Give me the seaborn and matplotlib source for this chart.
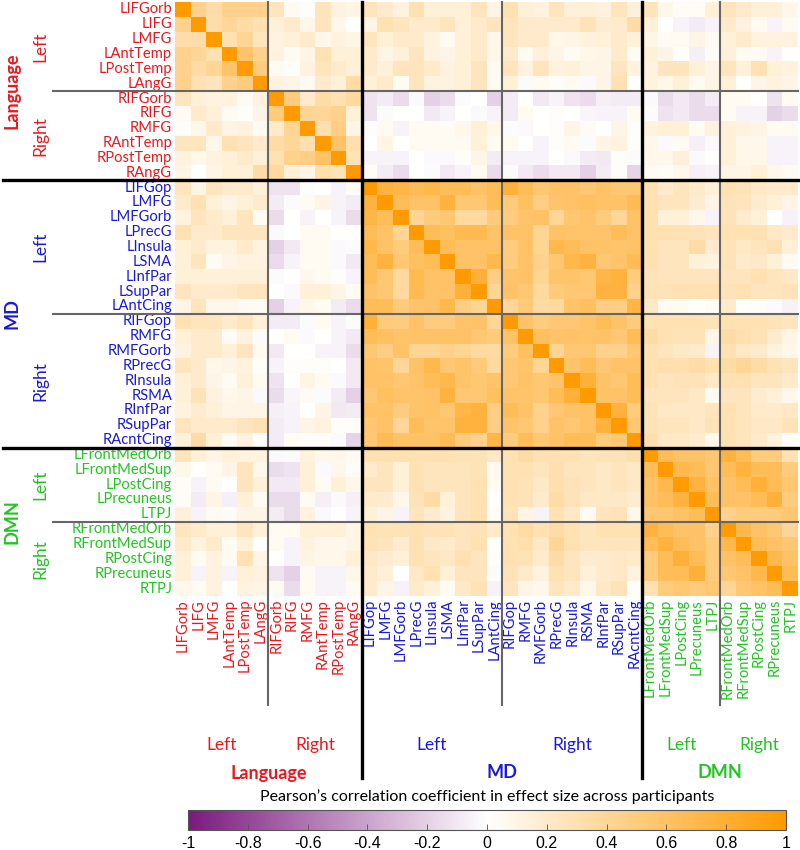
import numpy as np
import pandas as pd
import matplotlib
matplotlib.use("Agg")
import matplotlib.pyplot as plt
import seaborn as sns
from matplotlib import transforms
from matplotlib.colors import LinearSegmentedColormap

# ROI names per network
lang_rois = ["LIFGorb", "LIFG", "LMFG", "LAntTemp", "LPostTemp", "LAngG",
             "RIFGorb", "RIFG", "RMFG", "RAntTemp", "RPostTemp", "RAngG"]
md_rois = ["LIFGop", "LMFG", "LMFGorb", "LPrecG", "LInsula", "LSMA", "LInfPar", "LSupPar", "LAntCing",
           "RIFGop", "RMFG", "RMFGorb", "RPrecG", "RInsula", "RSMA", "RInfPar", "RSupPar", "RAcntCing"]
dmn_rois = ["LFrontMedOrb", "LFrontMedSup", "LPostCing", "LPrecuneus", "LTPJ",
            "RFrontMedOrb", "RFrontMedSup", "RPostCing", "RPrecuneus", "RTPJ"]

networks = ["Language", "MD", "DMN"]
net_colors = ["#E8191E", "#1A1AD8", "#22C422"]
hemi_sizes = [(6, 6), (9, 9), (5, 5)]

# lower triangle of the correlation matrix (x100), row i holds columns 0..i-1
lower_tri = [
    [],
    [45],
    [33, 33],
    [45, 40, 30],
    [45, 35, 42, 58],
    [45, 30, 25, 45, 50],
    [25, 15, 12, 12, 5, 12],
    [5, 20, 15, 5, 2, 10, 50],
    [2, 8, 20, 10, 12, 5, 20, 42],
    [25, 25, 8, 30, 25, 20, 35, 40, 32],
    [12, 8, 12, 15, 20, 15, 30, 45, 48, 60],
    [10, 0, 10, 15, 15, 35, 38, 15, 10, 32, 28],
    # MD
    [25, 10, 25, 20, 20, 15, -12, -12, 2, 0, -5, 3],
    [20, 30, 15, 10, 15, 20, -8, -2, 5, 10, -5, -8, 75],
    [12, 25, 20, 15, 25, 5, -15, 0, -5, 0, -5, -15, 72, 65],
    [30, 20, 20, 25, 25, 25, -3, 0, 5, 5, 0, 0, 65, 60, 42],
    [15, 20, 12, 12, 20, 12, -20, -10, 5, 5, -3, -2, 70, 60, 50, 65],
    [15, 25, 5, 10, 12, 12, -15, -5, 5, 5, -3, -10, 65, 75, 55, 62, 65],
    [15, 15, 15, 15, 15, 15, -2, 0, 8, 5, 2, -5, 65, 55, 38, 68, 60, 60],
    [25, 20, 20, 20, 25, 25, 0, -3, 15, 15, 10, 5, 60, 55, 38, 68, 60, 60, 78],
    [10, 25, 8, 8, 5, 5, -20, -5, 8, 5, -8, -15, 65, 65, 52, 58, 60, 70, 48, 42],
    [30, 25, 25, 20, 25, 15, -8, -8, -2, 5, -5, -2, 78, 52, 50, 60, 50, 50, 58, 60, 40],
    [15, 20, 20, 5, 12, -2, 0, 5, -3, 0, -5, -10, 65, 62, 58, 60, 60, 60, 60, 55, 52, 60],
    [12, 20, 20, 15, 25, 5, -10, 0, 0, -5, -5, -15, 55, 48, 60, 42, 42, 45, 42, 38, 36, 50, 62],
    [25, 20, 8, 10, 12, 2, -5, 2, 2, 2, 0, -10, 60, 58, 40, 60, 70, 55, 58, 52, 38, 55, 58, 42],
    [15, 20, 10, 5, 15, 5, -12, 0, 10, 5, -3, -10, 60, 60, 55, 58, 65, 70, 58, 55, 58, 55, 60, 55, 58],
    [15, 28, 12, 8, 10, -3, -15, -4, 4, -2, -8, -20, 55, 62, 58, 58, 60, 75, 55, 55, 62, 58, 58, 55, 65, 78],
    [12, 18, 15, 10, 10, 10, -7, -5, 0, 10, -10, -8, 60, 60, 50, 58, 60, 55, 72, 75, 48, 65, 60, 45, 55, 60, 60],
    [25, 20, 20, 20, 25, 30, -8, -5, 10, 12, 2, 2, 55, 60, 40, 65, 58, 58, 76, 75, 48, 58, 55, 45, 60, 55, 60, 75],
    [15, 35, 15, 5, 12, 0, -8, 5, 2, 2, -2, -18, 55, 66, 60, 60, 60, 66, 50, 45, 72, 50, 65, 55, 60, 65, 65, 50, 55],
    # DMN
    [25, 15, 10, 15, 12, 12, -3, -2, 12, 8, 8, 5, 30, 30, 30, 30, 30, 30, 28, 28, 22,
     30, 35, 30, 30, 30, 25, 28, 28, 32],
    [8, 0, 5, 10, 25, 8, -15, -12, 15, -3, 8, 3, 20, 25, 15, 30, 25, 25, 25, 28, 5,
     30, 30, 25, 32, 25, 25, 22, 25, 22, 65],
    [3, -5, 5, 0, 25, 15, -10, -10, 15, 5, 15, 8, 25, 25, 15, 30, 25, 25, 25, 30, 5,
     30, 28, 22, 32, 28, 25, 22, 25, 22, 60, 70],
    [3, -8, 10, -7, 15, 5, -15, -15, 5, -7, -3, -7, 20, 18, 8, 28, 35, 15, 25, 30, 0,
     30, 28, 20, 35, 28, 22, 22, 22, 18, 60, 65, 75],
    [15, -5, 5, 3, 10, 10, -8, -15, 12, -3, 0, -5, 15, 10, -5, 25, 18, 12, 25, 30, 3,
     28, 10, -5, 30, 22, 5, 25, 28, 8, 55, 55, 60, 65],
    [25, 20, 15, 15, 25, 15, 5, 5, 15, 15, 15, 10, 30, 28, 28, 30, 28, 28, 25, 28, 20,
     30, 35, 30, 35, 30, 25, 30, 30, 30, 75, 65, 60, 60, 45],
    [20, 12, 20, 5, 15, 0, 5, -5, 12, 8, 8, 10, 28, 25, 18, 30, 22, 20, 25, 30, 0,
     30, 32, 22, 40, 30, 25, 25, 25, 25, 65, 75, 65, 60, 50, 70],
    [15, 5, 12, 5, 30, 10, 0, -5, 10, 8, 8, 15, 22, 18, 15, 30, 25, 22, 30, 25, 2,
     30, 28, 20, 35, 25, 18, 20, 22, 20, 50, 65, 78, 65, 50, 60, 65],
    [15, -5, 12, -5, 15, 12, -12, -20, 5, -5, -5, 8, 20, 15, 0, 22, 30, 15, 25, 25, -2,
     28, 20, 12, 30, 25, 15, 20, 22, 12, 50, 65, 65, 78, 50, 55, 60, 70],
    [8, 5, 12, 0, 12, 10, 5, -15, 5, -5, -5, 5, 20, 10, -6, 20, 15, 5, 22, 28, -6,
     25, 10, 8, 25, 20, 8, 22, 28, 2, 30, 50, 55, 50, 55, 40, 55, 60, 65],
]

cbar_ticks = [-1, -0.8, -0.6, -0.4, -0.2, 0, 0.2, 0.4, 0.6, 0.8, 1]

# build symmetric matrix
rois = lang_rois + md_rois + dmn_rois
n = len(rois)
mat = np.eye(n)
for i, row in enumerate(lower_tri):
    for j, v in enumerate(row):
        mat[i, j] = mat[j, i] = v / 100.0
df = pd.DataFrame(mat, index=rois, columns=rois)

roi_colors = ([net_colors[0]] * len(lang_rois) + [net_colors[1]] * len(md_rois)
              + [net_colors[2]] * len(dmn_rois))

cmap = LinearSegmentedColormap.from_list("po", ["#7A1A7E", "#FFFFFF", "#FF9A00"])

plt.rcParams['font.family'] = ['Lato', 'DejaVu Sans']

W, H = 800, 850
fig = plt.figure(figsize=(W / 100, H / 100), dpi=100)
ax = fig.add_axes([175 / W, 1 - 596 / H, 623 / W, 594 / H])

sns.heatmap(df, ax=ax, cmap=cmap, vmin=-1, vmax=1, cbar=False,
            xticklabels=rois, yticklabels=rois)
ax.tick_params(length=0, pad=2)
ax.set_xticklabels(rois, rotation=90, fontsize=10.6)
ax.set_yticklabels(rois, rotation=0, fontsize=10.6)
for lab, c in zip(ax.get_xticklabels(), roi_colors):
    lab.set_color(c)
for lab, c in zip(ax.get_yticklabels(), roi_colors):
    lab.set_color(c)

# separators, extended into the label area
tr_h = transforms.blended_transform_factory(fig.transFigure, ax.transData)
tr_v = transforms.blended_transform_factory(ax.transData, fig.transFigure)
x_right = 798 / W
y_top = 1 - 2 / H
for b in [6, 21, 35]:
    ax.plot([53 / W, x_right], [b, b], transform=tr_h, color="#666666", lw=1.5, clip_on=False)
    ax.plot([b, b], [y_top, 1 - 705 / H], transform=tr_v, color="#666666", lw=1.5, clip_on=False)
for b in [12, 30]:
    ax.plot([3 / W, x_right], [b, b], transform=tr_h, color="black", lw=2.4, clip_on=False)
    ax.plot([b, b], [y_top, 1 - 778 / H], transform=tr_v, color="black", lw=2.4, clip_on=False)

# group labels on the left and at the bottom
start = 0
for net, col, (nl, nr) in zip(networks, net_colors, hemi_sizes):
    mid = start + (nl + nr) / 2
    ax.text(12 / W, mid, net, transform=tr_h, rotation=90, ha="center", va="center",
            color=col, fontsize=13, fontweight="bold")
    ax.text(mid, 1 - 773 / H, net, transform=tr_v, ha="center", va="center",
            color=col, fontsize=13, fontweight="bold")
    for k, (hemi, size) in enumerate([("Left", nl), ("Right", nr)]):
        c = start + k * nl + size / 2
        ax.text(40 / W, c, hemi, transform=tr_h, rotation=90, ha="center", va="center",
                color=col, fontsize=12.5)
        ax.text(c, 1 - 745 / H, hemi, transform=tr_v, ha="center", va="center",
                color=col, fontsize=12.5)
    start += nl + nr

# colour bar
cax = fig.add_axes([188 / W, 1 - 830 / H, 598 / W, 20 / H])
sm = plt.cm.ScalarMappable(cmap=cmap, norm=plt.Normalize(-1, 1))
cb = fig.colorbar(sm, cax=cax, orientation="horizontal", ticks=cbar_ticks)
cb.ax.set_xticklabels([f"{t:g}" for t in cbar_ticks], fontsize=11.5, family="Liberation Sans")
cb.ax.tick_params(direction="in", length=4, width=0.6, color="#555555", pad=4)
cb.outline.set_linewidth(0.8)
cb.outline.set_edgecolor("#555555")
fig.text(487 / W, 1 - 797 / H, "Pearson\u2019s correlation coefficient in effect size across participants",
         ha="center", va="center", fontsize=11.5)

fig.savefig("out.png", dpi=100)
